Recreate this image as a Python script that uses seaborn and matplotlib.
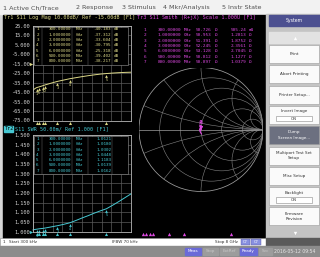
import matplotlib
matplotlib.use("Agg")
import pandas as pd
import matplotlib.pyplot as plt
from matplotlib.patches import Rectangle, Circle
from matplotlib.ticker import LinearLocator
from matplotlib.transforms import offset_copy
import seaborn as sns

W, H = 320, 257
MONO = "DejaVu Sans Mono"
SANS = "DejaVu Sans"

YELLOW = "#dcd888"
CYAN = "#46c8d2"
MAGENTA = "#dc48e0"
GRID = "#5a5a5a"

# --- трасa S11, зчитано з екрана ---
freq_ghz = [0.0003, 0.1, 0.2, 0.3, 0.5, 0.8, 1.0, 1.5, 2.0, 2.5, 3.0,
            3.5, 4.0, 4.5, 5.0, 5.5, 6.0, 6.5, 7.0, 7.5, 8.0]
log_mag_db = [-43.0, -41.8, -40.9, -40.2, -39.4, -38.2, -37.3, -35.4, -33.6, -32.2, -30.8,
              -29.7, -28.6, -27.6, -26.7, -25.9, -25.3, -24.8, -24.4, -24.1, -23.9]
swr = [1.008, 1.010, 1.011, 1.012, 1.014, 1.016, 1.018, 1.024, 1.030, 1.037, 1.045,
       1.057, 1.070, 1.082, 1.095, 1.107, 1.118, 1.136, 1.155, 1.175, 1.195]

# Smith (коефіцієнт відбиття), зчитано приблизно
smith_re = [0.004, 0.002, -0.004, -0.010, -0.016, -0.020, -0.022, -0.020, -0.014, -0.006, 0.002, 0.008]
smith_im = [0.004, 0.012, 0.020, 0.024, 0.020, 0.010, -0.004, -0.020, -0.036, -0.050, -0.062, -0.072]

# --- маркери ---
marker_no = ["1", "2", "3", "4", "5", "6", "7"]
marker_freq_ghz = [0.3, 1.0, 2.0, 3.0, 6.0, 0.5, 0.8]
marker_freq_txt = ["300.00000", "1.0000000", "2.0000000", "3.0000000",
                   "6.0000000", "500.00000", "800.00000"]
marker_unit = ["MHz", "GHz", "GHz", "GHz", "GHz", "MHz", "MHz"]
marker_db = [-40.183, -37.312, -33.604, -30.795, -25.318, -39.402, -38.217]
marker_swr = [1.0121, 1.0180, 1.0302, 1.0448, 1.1183, 1.0139, 1.0162]
marker_r = [50.726, 50.953, 51.391, 52.245, 53.128, 50.812, 50.897]
marker_x = ["505.24", "1.2813", "1.8752", "2.3561", "2.7045", "1.1277", "1.0379"]
marker_x_unit = ["m\u03a9", "\u03a9", "\u03a9", "\u03a9", "\u03a9", "\u03a9", "\u03a9"]
smith_mk_re = [0.004, 0.002, -0.010, -0.020, -0.014, 0.003, 0.001]
smith_mk_im = [0.004, 0.012, 0.024, 0.010, -0.036, 0.008, 0.011]

# --- шкали ---
logmag_ticks = [25, 15, 5, -5, -15, -25, -35, -45, -55, -65, -75]
logmag_labels = ["25.00", "15.00", "5.000", "-5.000", "-15.00", "-25.00",
                 "-35.00", "-45.00", "-55.00", "-65.00", "-75.00"]
swr_ticks = [1.50, 1.45, 1.40, 1.35, 1.30, 1.25, 1.20, 1.15, 1.10, 1.05, 1.00]
swr_labels = ["1.500", "1.450", "1.400", "1.350", "1.300", "1.250",
              "1.200", "1.150", "1.100", "1.050", "1.000"]
smith_r_circles = [0.2, 0.5, 1.0, 2.0, 5.0]
smith_x_arcs = [0.2, 0.5, 1.0, 2.0, 5.0]

menu_items = ["1 Active Ch/Trace", "2 Response", "3 Stimulus", "4 Mkr/Analysis", "5 Instr State"]
menu_x = [3, 76, 122, 163, 222]
softkeys = ["Print", "Abort Printing", "Printer Setup...", "Invert Image",
            "Dump\nScreen Image...", "Multiport Test Set\nSetup", "Misc Setup",
            "Backlight", "Firmware\nRevision"]
softkeys_on = ["Invert Image", "Backlight"]

df = pd.DataFrame({"freq": freq_ghz, "logmag": log_mag_db, "swr": swr})
df_smith = pd.DataFrame({"re": smith_re, "im": smith_im})
df_mk = pd.DataFrame({"freq": marker_freq_ghz, "db": marker_db, "swr": marker_swr})

fig = plt.figure(figsize=(W / 100, H / 100), dpi=100, facecolor="#d6d6d6")


def px_axes(x0, y0, x1, y1, z=1):
    ax = fig.add_axes([x0 / W, 1 - y1 / H, (x1 - x0) / W, (y1 - y0) / H])
    ax.set_zorder(z)
    return ax


# 1. Фон: меню, чорний екран, панель, статус
bg = px_axes(0, 0, W, H, z=0)
bg.set_xlim(0, W)
bg.set_ylim(H, 0)
bg.axis("off")
bg.add_patch(Rectangle((0, 0), W, 14, color="#f2f2f2"))
bg.add_patch(Rectangle((3, 15), 263, 223, color="black"))
bg.add_patch(Rectangle((266, 14), 54, 224, color="#c4c4c4"))
bg.add_patch(Rectangle((0, 238), 266, 8, color="white", ec="#8a8a8a", lw=0.4))
bg.add_patch(Rectangle((266, 238), 54, 8, color="#5a5a5a"))
bg.add_patch(Rectangle((0, 246), W, 11, color="#8c8c8c"))

# 2. Log Mag
ax1 = px_axes(33, 26, 131, 120.5)
# 3. SWR
ax2 = px_axes(33, 135, 131, 231.5)

for ax, ticks, labels in [(ax1, logmag_ticks, logmag_labels), (ax2, swr_ticks, swr_labels)]:
    ax.set_facecolor("black")
    ax.set_xlim(freq_ghz[0], freq_ghz[-1])
    ax.set_ylim(ticks[-1], ticks[0])
    ax.xaxis.set_major_locator(LinearLocator(11))
    ax.set_yticks(ticks)
    ax.set_yticklabels(labels, family=MONO)
    ax.tick_params(axis="x", length=0, labelbottom=False)
    ax.tick_params(axis="y", length=0, pad=2.2, labelsize=3.8, labelcolor="#d4d4d4")
    ax.grid(True, color=GRID, lw=0.5)
    for s in ax.spines.values():
        s.set_color("#b8b8b8")
        s.set_linewidth(0.6)

sns.lineplot(data=df, x="freq", y="logmag", ax=ax1, color=YELLOW, lw=0.7)
sns.lineplot(data=df, x="freq", y="swr", ax=ax2, color=CYAN, lw=0.7, clip_on=False)

for ax, col, ycol in [(ax1, YELLOW, "db"), (ax2, CYAN, "swr")]:
    ax.set_xlabel("")
    ax.set_ylabel("")
    tr = offset_copy(ax.transData, fig=fig, x=0, y=-1.6, units="points")
    ax.plot(df_mk["freq"], df_mk[ycol], "^", transform=tr, ms=2.0, mew=0, color=col, clip_on=False)
    for f, v, n in zip(df_mk["freq"], df_mk[ycol], marker_no):
        ax.annotate(n, (f, v), xytext=(0, -4.6), textcoords="offset points", ha="center",
                    va="center", fontsize=2.6, color=col, family=MONO, annotation_clip=False)
    trb = offset_copy(ax.get_xaxis_transform(), fig=fig, x=0, y=-1.8, units="points")
    ax.plot(df_mk["freq"], [0] * len(df_mk), "^", transform=trb, ms=2.2, mew=0,
            color=col, clip_on=False)

# 4. Smith
ax3 = px_axes(139, 67.5, 263, 191.5)
ax3.set_xlim(-1.0, 1.0)
ax3.set_ylim(-1.0, 1.0)
ax3.set_aspect("equal")
ax3.axis("off")
outer = Circle((0, 0), 1, fill=False, ec="#a0a0a0", lw=0.55)
ax3.add_patch(outer)
for r in smith_r_circles:
    ax3.add_patch(Circle((r / (1 + r), 0), 1 / (1 + r), fill=False, ec="#858585", lw=0.4))
for xv in smith_x_arcs:
    for sgn in (1, -1):
        arc = Circle((1, sgn / xv), 1 / xv, fill=False, ec="#858585", lw=0.4)
        ax3.add_patch(arc)
        arc.set_clip_path(outer)
ax3.plot([-1, 1], [0, 0], color="#a0a0a0", lw=0.5)
sns.lineplot(data=df_smith, x="re", y="im", ax=ax3, sort=False, estimator=None,
             color=MAGENTA, lw=0.8)
tr3 = offset_copy(ax3.transData, fig=fig, x=0, y=1.6, units="points")
ax3.plot(smith_mk_re, smith_mk_im, "v", transform=tr3, ms=2.0, mew=0, color=MAGENTA)
for re_, im_, n in zip(smith_mk_re, smith_mk_im, marker_no):
    ax3.annotate(n, (re_, im_), xytext=(0, 4.6), textcoords="offset points", ha="center",
                 va="center", fontsize=2.6, color=MAGENTA, family=MONO)

# індикатори маркерів Smith внизу
ax4 = px_axes(138, 230, 262, 236)
ax4.set_xlim(freq_ghz[0], freq_ghz[-1])
ax4.set_ylim(0, 1)
ax4.axis("off")
ax4.plot(marker_freq_ghz, [0.4] * len(marker_freq_ghz), "^", ms=2.4, mew=0, color=MAGENTA)

# 5. Текст і таблиці поверх
ui = px_axes(0, 0, W, H, z=10)
ui.set_xlim(0, W)
ui.set_ylim(H, 0)
ui.axis("off")
ui.patch.set_alpha(0)

for t, x in zip(menu_items, menu_x):
    ui.text(x, 7.5, t, fontsize=4.6, color="#505050", family=SANS, va="center")

ui.text(4, 18, "Tr1 S11 Log Mag 10.00dB/ Ref -15.00dB [F1]", fontsize=3.7,
        color=YELLOW, family=MONO, va="center")
ui.text(137, 18, "Tr3 S11 Smith (R+jX) Scale 1.000U [F1]", fontsize=3.7,
        color=MAGENTA, family=MONO, va="center")
ui.add_patch(Rectangle((4, 125.5), 9, 6, color=CYAN))
ui.text(4.8, 128.5, "Tr2", fontsize=3.7, color="black", family=MONO, va="center")
ui.text(15, 128.5, "S11 SWR 50.00m/ Ref 1.000 [F1]", fontsize=3.7,
        color=CYAN, family=MONO, va="center")

# опорні позиції
ui.plot([31], [63.8], ">", ms=2.4, mew=0, color=YELLOW)
ui.plot([31], [231.5], ">", ms=2.4, mew=0, color=CYAN)

# таблиці маркерів
for y0, col, vals in [(26.5, YELLOW, ["%.3f" % v for v in marker_db]),
                      (136, CYAN, ["%.4f" % v for v in marker_swr])]:
    ui.add_patch(Rectangle((33.5, y0), 94, 38, fc="black", ec="#9a9a9a", lw=0.4))
    for xs in (41.5, 72, 88, 112):
        ui.plot([xs, xs], [y0, y0 + 38], color="#6a6a6a", lw=0.35)
    for i in range(7):
        y = y0 + 3.0 + i * 5.3
        ui.text(37.5, y, marker_no[i], fontsize=3.1, color=col, family=MONO, ha="center", va="center")
        ui.text(71, y, marker_freq_txt[i], fontsize=3.1, color=col, family=MONO, ha="right", va="center")
        ui.text(80, y, marker_unit[i], fontsize=3.1, color=col, family=MONO, ha="center", va="center")
        ui.text(111, y, vals[i], fontsize=3.1, color=col, family=MONO, ha="right", va="center")
        if col == YELLOW:
            ui.text(114, y, "dB", fontsize=3.1, color=col, family=MONO, va="center")

for i in range(7):
    y = 30 + i * 5.3
    ui.text(146, y, marker_no[i], fontsize=3.2, color=MAGENTA, family=MONO, ha="right", va="center")
    ui.text(181, y, marker_freq_txt[i], fontsize=3.2, color=MAGENTA, family=MONO, ha="right", va="center")
    ui.text(184, y, marker_unit[i], fontsize=3.2, color=MAGENTA, family=MONO, va="center")
    ui.text(211, y, "%.3f" % marker_r[i], fontsize=3.2, color=MAGENTA, family=MONO, ha="right", va="center")
    ui.text(215, y, "\u03a9", fontsize=3.2, color=MAGENTA, family=MONO, va="center")
    ui.text(246, y, marker_x[i], fontsize=3.2, color=MAGENTA, family=MONO, ha="right", va="center")
    ui.text(249, y, marker_x_unit[i], fontsize=3.2, color=MAGENTA, family=MONO, va="center")

# панель програмних клавіш
ui.add_patch(Rectangle((269, 15), 51, 11, color="#4c5090"))
ui.text(294.5, 20.5, "System", fontsize=3.3, color="white", family=SANS, ha="center", va="center")
ui.add_patch(Rectangle((269, 32), 51, 11, color="#e2e2e2"))
ui.plot([294.5], [37.5], "^", ms=2.4, mew=0, color="white")
for i, key in enumerate(softkeys):
    y = 45 + i * 20.3
    dark = key.startswith("Dump")
    ui.add_patch(Rectangle((269, y), 50, 18, fc="#6c7080" if dark else "#fafafa",
                           ec="#9a9a9a", lw=0.4))
    if key in softkeys_on:
        ui.text(294, y + 5.5, key, fontsize=3.0, color="#303030", family=SANS,
                ha="center", va="center")
        ui.add_patch(Rectangle((276, y + 10), 36, 5.5, fc="white", ec="#8a8a8a", lw=0.4))
        ui.text(294, y + 12.8, "ON", fontsize=2.8, color="#303030", family=SANS,
                ha="center", va="center")
    else:
        ui.text(294, y + 9, key, fontsize=3.0, color="white" if dark else "#303030",
                family=SANS, ha="center", va="center", linespacing=1.5)
ui.plot([294.5], [232.5], "v", ms=2.4, mew=0, color="white")

# рядок стимулу та статусу
ui.text(3, 242, "1", fontsize=3.0, color="#303030", family=SANS, va="center")
ui.text(9, 242, "Start 300 kHz", fontsize=3.0, color="#303030", family=SANS, va="center")
ui.text(112, 242, "IFBW 70 kHz", fontsize=3.0, color="#303030", family=SANS, va="center")
ui.text(238, 242, "Stop 8 GHz", fontsize=3.0, color="#303030", family=SANS, ha="right", va="center")
for x in (240.5, 251):
    ui.add_patch(Rectangle((x, 239), 9.5, 6, fc="#8890e0", ec="#5a5aa0", lw=0.3))
    ui.text(x + 4.75, 242, "C?", fontsize=2.8, color="white", family=SANS, ha="center", va="center")

for x0, w, txt, fc, tc in [(185, 16, "Meas", "#6a6ad8", "white"), (203, 15, "Stop", "#9c9c9c", "#c8c8c8"),
                           (220, 18, "ExtRef", "#9c9c9c", "#c8c8c8"), (240, 17, "Ready", "#6a6ad8", "white"),
                           (259, 13, "Svc", "#9c9c9c", "#c8c8c8")]:
    ui.add_patch(Rectangle((x0, 247.5), w, 7.5, color=fc))
    ui.text(x0 + w / 2, 251.3, txt, fontsize=3.0, color=tc, family=SANS, ha="center", va="center")
ui.text(274, 251.3, "2016-05-12 09:54", fontsize=3.3, color="#e8e8e8", family=SANS, va="center")

fig.savefig("out.png", dpi=100, facecolor=fig.get_facecolor())
